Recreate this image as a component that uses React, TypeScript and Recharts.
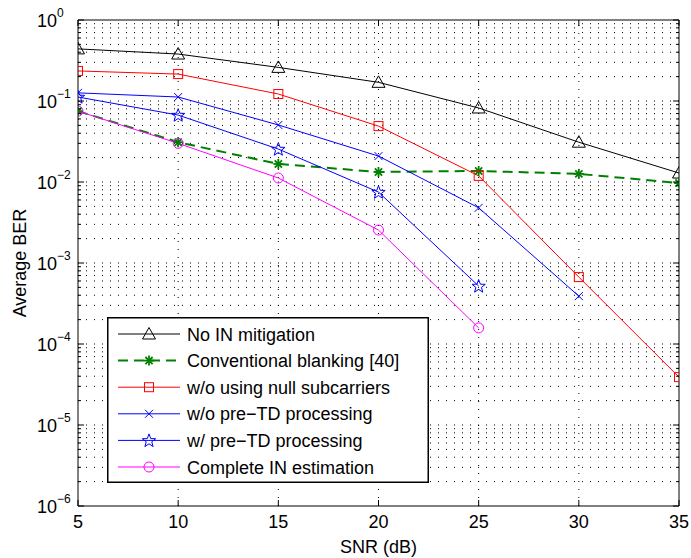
import React from "react";
import { LineChart, Line, XAxis, YAxis, ReferenceLine, Legend } from "recharts";

// --- values ---

const snr = [5, 10, 15, 20, 25, 30, 35];
const noMitigation = [0.44, 0.38, 0.26, 0.17, 0.082, 0.031, 0.0129];
const blanking = [0.075, 0.031, 0.0167, 0.0133, 0.0137, 0.0126, 0.0097];
const noNull = [0.235, 0.215, 0.122, 0.049, 0.0119, 0.00067, 0.000039];
const noPreTD = [0.126, 0.112, 0.0506, 0.0209, 0.0048, 0.00039];
const preTD = [0.112, 0.067, 0.0255, 0.0075, 0.00052];
const completeIN = [0.075, 0.03, 0.0112, 0.00255, 0.000158];

const xTicks = [5, 10, 15, 20, 25, 30, 35];
const xGrid = [10, 15, 20, 25, 30];
const decades = [-6, -5, -4, -3, -2, -1];
const mantissas = [1, 2, 3, 4, 5, 6, 7, 8, 9];

const yTicks: number[] = [];
decades.forEach((e) => mantissas.forEach((m) => yTicks.push(m * Math.pow(10, e))));
yTicks.push(1);
const yGrid = yTicks.filter((v) => v > 1e-6 && v < 1);

const data = snr.map((x, i) => ({
  snr: x,
  noMit: noMitigation[i],
  blank: blanking[i],
  noNull: noNull[i],
  noPre: noPreTD[i],
  pre: preTD[i],
  full: completeIN[i],
}));

const series = [
  { key: "noMit", name: "No IN mitigation", color: "#000000", marker: "triangle", dash: undefined, width: 1 },
  { key: "blank", name: "Conventional blanking [40]", color: "#008000", marker: "asterisk", dash: "10 6", width: 2 },
  { key: "noNull", name: "w/o using null subcarriers", color: "#ff0000", marker: "square", dash: undefined, width: 1 },
  { key: "noPre", name: "w/o pre\u2212TD processing", color: "#0000ff", marker: "x", dash: undefined, width: 1 },
  { key: "pre", name: "w/ pre\u2212TD processing", color: "#0000ff", marker: "star", dash: undefined, width: 1 },
  { key: "full", name: "Complete IN estimation", color: "#ff00ff", marker: "circle", dash: undefined, width: 1 },
];

const FONT = '"Liberation Sans", Arial, Helvetica, sans-serif';

// --- markers ---

const starPoints = (cx: number, cy: number, R: number, r: number) =>
  Array.from({ length: 10 }, (_, k) => {
    const a = -Math.PI / 2 + (k * Math.PI) / 5;
    const rad = k % 2 ? r : R;
    return `${cx + rad * Math.cos(a)},${cy + rad * Math.sin(a)}`;
  }).join(" ");

const Marker = ({ type, cx, cy, color }: { type: string; cx: number; cy: number; color: string }) => {
  switch (type) {
    case "triangle":
      return (
        <polygon
          points={`${cx},${cy - 6.5} ${cx - 6.5},${cy + 5} ${cx + 6.5},${cy + 5}`}
          fill="none"
          stroke={color}
          strokeWidth={1}
        />
      );
    case "square":
      return <rect x={cx - 4.5} y={cy - 4.5} width={9} height={9} fill="none" stroke={color} strokeWidth={1} />;
    case "circle":
      return <circle cx={cx} cy={cy} r={5} fill="none" stroke={color} strokeWidth={1} />;
    case "x":
      return (
        <g stroke={color} strokeWidth={1}>
          <line x1={cx - 4} y1={cy - 4} x2={cx + 4} y2={cy + 4} />
          <line x1={cx - 4} y1={cy + 4} x2={cx + 4} y2={cy - 4} />
        </g>
      );
    case "star":
      return <polygon points={starPoints(cx, cy + 0.5, 7, 2.9)} fill="none" stroke={color} strokeWidth={1} />;
    case "asterisk":
      return (
        <g stroke={color} strokeWidth={1.8}>
          <line x1={cx - 5} y1={cy} x2={cx + 5} y2={cy} />
          <line x1={cx} y1={cy - 5} x2={cx} y2={cy + 5} />
          <line x1={cx - 3.6} y1={cy - 3.6} x2={cx + 3.6} y2={cy + 3.6} />
          <line x1={cx - 3.6} y1={cy + 3.6} x2={cx + 3.6} y2={cy - 3.6} />
        </g>
      );
    default:
      return null;
  }
};

const makeDot = (type: string, color: string) => (props: any) => {
  const { cx, cy, index, value } = props;
  if (cx == null || cy == null || value == null) return <g key={index} />;
  return (
    <g key={index}>
      <Marker type={type} cx={cx} cy={cy} color={color} />
    </g>
  );
};

// --- ticks (MATLAB style: inward) ---

const isMajor = (v: number) => {
  const lg = Math.log10(v);
  return Math.abs(lg - Math.round(lg)) < 1e-6;
};

const LeftTick = ({ x, y, payload }: any) => {
  const v = payload.value;
  const major = isMajor(v);
  const exp = Math.round(Math.log10(v));
  return (
    <g>
      <line x1={x} x2={x + (major ? 6 : 3)} y1={y} y2={y} stroke="#000" />
      {major && (
        <text x={x - 41} y={y + 7} fontSize={18} fill="#000" fontFamily={FONT}>
          10
          <tspan dy={-10} fontSize={12}>
            {exp < 0 ? `\u2212${-exp}` : `${exp}`}
          </tspan>
        </text>
      )}
    </g>
  );
};

const RightTick = ({ x, y, payload }: any) => {
  const major = isMajor(payload.value);
  return <line x1={x} x2={x - (major ? 6 : 3)} y1={y} y2={y} stroke="#000" />;
};

const BottomTick = ({ x, y, payload }: any) => (
  <g>
    <line x1={x} x2={x} y1={y} y2={y - 6} stroke="#000" />
    <text x={x} y={y + 22} fontSize={18} fill="#000" fontFamily={FONT} textAnchor="middle">
      {payload.value}
    </text>
  </g>
);

const TopTick = ({ x, y }: any) => <line x1={x} x2={x} y1={y} y2={y + 6} stroke="#000" />;

const YTitle = ({ viewBox }: any) => {
  const cx = viewBox.x + 26;
  const cy = viewBox.y + viewBox.height / 2;
  return (
    <text
      x={cx}
      y={cy}
      transform={`rotate(-90 ${cx} ${cy})`}
      textAnchor="middle"
      fontSize={18}
      fill="#000"
      fontFamily={FONT}
    >
      Average BER
    </text>
  );
};

const XTitle = ({ viewBox }: any) => (
  <text
    x={viewBox.x + viewBox.width / 2}
    y={viewBox.y + 47}
    textAnchor="middle"
    fontSize={18}
    fill="#000"
    fontFamily={FONT}
  >
    SNR (dB)
  </text>
);

// --- legend box ---

const LegendBox = () => (
  <svg width={322} height={166} style={{ display: "block" }}>
    <rect x={0.75} y={0.75} width={320.5} height={164.5} fill="#fff" stroke="#000" strokeWidth={1.5} />
    {series.map((s, i) => {
      const cy = 17 + i * 26.6;
      return (
        <g key={s.key}>
          <line
            x1={11}
            x2={73}
            y1={cy}
            y2={cy}
            stroke={s.color}
            strokeWidth={s.width}
            strokeDasharray={s.dash}
          />
          <Marker type={s.marker} cx={42} cy={cy} color={s.color} />
          <text x={80} y={cy + 6.5} fontSize={18} fill="#000" fontFamily={FONT}>
            {s.name}
          </text>
        </g>
      );
    })}
  </svg>
);

const App = () => (
  <div style={{ position: "absolute", left: 0, top: 0, width: 691, height: 558, background: "#fff" }}>
    <LineChart width={691} height={558} data={data} margin={{ top: 0, right: 0, left: 0, bottom: 0 }}>
      <XAxis
        xAxisId="b"
        dataKey="snr"
        type="number"
        domain={[5, 35]}
        ticks={xTicks}
        height={52}
        tickSize={0}
        tickMargin={0}
        tickLine={false}
        tick={<BottomTick />}
        axisLine={{ stroke: "#000" }}
        allowDataOverflow
        label={<XTitle />}
      />
      <XAxis
        xAxisId="t"
        orientation="top"
        dataKey="snr"
        type="number"
        domain={[5, 35]}
        ticks={xTicks}
        height={20}
        tickSize={0}
        tickMargin={0}
        tickLine={false}
        tick={<TopTick />}
        axisLine={{ stroke: "#000" }}
        allowDataOverflow
      />
      <YAxis
        yAxisId="l"
        scale="log"
        type="number"
        domain={[1e-6, 1]}
        ticks={yTicks}
        interval={0}
        width={78}
        tickSize={0}
        tickMargin={0}
        tickLine={false}
        tick={<LeftTick />}
        axisLine={{ stroke: "#000" }}
        allowDataOverflow
        label={<YTitle />}
      />
      <YAxis
        yAxisId="r"
        orientation="right"
        scale="log"
        type="number"
        domain={[1e-6, 1]}
        ticks={yTicks}
        interval={0}
        width={12}
        tickSize={0}
        tickMargin={0}
        tickLine={false}
        tick={<RightTick />}
        axisLine={{ stroke: "#000" }}
        allowDataOverflow
      />
      {yGrid.map((v) => (
        <ReferenceLine
          key={`h${v}`}
          xAxisId="b"
          yAxisId="l"
          y={v}
          stroke="#000"
          strokeWidth={1}
          strokeDasharray="1 7"
        />
      ))}
      {xGrid.map((v) => (
        <ReferenceLine
          key={`v${v}`}
          xAxisId="b"
          yAxisId="l"
          x={v}
          stroke="#000"
          strokeWidth={1}
          strokeDasharray="1 7"
        />
      ))}
      {series.map((s) => (
        <Line
          key={s.key}
          xAxisId="b"
          yAxisId="l"
          dataKey={s.key}
          name={s.name}
          type="linear"
          stroke={s.color}
          strokeWidth={s.width}
          strokeDasharray={s.dash}
          dot={makeDot(s.marker, s.color)}
          activeDot={false}
          connectNulls={false}
          isAnimationActive={false}
        />
      ))}
      <Legend
        layout="vertical"
        align="center"
        verticalAlign="middle"
        content={<LegendBox />}
        wrapperStyle={{ left: 107, top: 317, width: 322, height: 166 }}
      />
    </LineChart>
  </div>
);

export default App;
